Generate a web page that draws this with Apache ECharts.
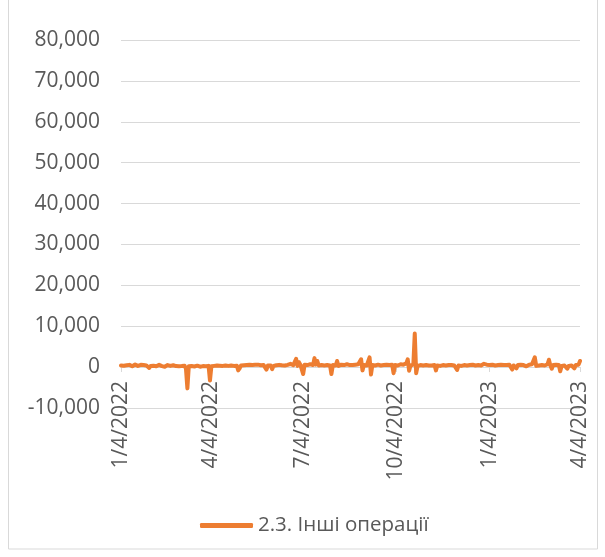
<!DOCTYPE html>
<html>
<head>
<meta charset="utf-8">
<script src="https://cdn.jsdelivr.net/npm/echarts@6/dist/echarts.min.js"></script>
<style>
  html, body { margin: 0; padding: 0; background: #fff; }
  #chart { width: 605px; height: 557px; }
</style>
</head>
<body>
<div id="chart"></div>
<script>
// Daily values (business days), grouped by month
const seriesName = '2.3. Інші операції';
const jan22 = [400, 500, 350, 600, 450, 300, 550, 400, 200, 500, 650, 400, 300, 450, 550, 350, 500, 250, 400, 600];
const feb22 = [-200, 300, 450, 350, 500, 200, 400, 550, 300, 250, 450, 100, 350, 500, 400, 300, 200, 450, 350, 250];
const mar22 = [300, 200, 400, 250, 100, 350, -400, -5200, 200, 300, 250, 400, 150, 300, 350, 200, 100, 300, 250, 350, 200, 400, 300];
const apr22 = [-3300, 200, 350, 300, 250, 400, 300, 350, 450, 300, 250, 400, 350, 300, 450, 400, 350, 300, 400, 350, -800];
const may22 = [-300, 400, 500, 450, 600, 500, 400, 550, 600, 500, 450, 550, 400, 600, 500, 450, 550, 500, 350, -600, 400, 500];
const jun22 = [400, -500, 300, 500, 450, 400, 550, 500, 450, 600, 400, 500, 550, 450, 800, 600, 500, 900, 2000, 300, 1200, 600];
const jul22 = [800, -1700, 600, 900, 500, 400, 700, 600, 500, 2200, 600, 1500, 400, 600, 500, 700, 400, 600, 500, 300, 400];
const aug22 = [-1700, 500, 600, 400, 1500, 300, 500, 600, 400, 500, 600, 700, 400, 500, 600, 500, 400, 600, 500, 700, 400, 1900, -800];
const sep22 = [500, 600, 400, 700, 2400, -1800, 500, 600, 400, 500, 600, 500, 400, 600, 500, 700, 600, 400, 500, 300, 600, -1500];
const oct22 = [500, 600, 400, 500, 700, 500, 600, 400, 900, 1900, -900, 400, 500, 600, 8200, -1500, 300, 400, 500, 300, 400];
const nov22 = [400, 500, 300, 400, 500, 400, 300, 500, -800, 400, 500, 300, 400, 500, 600, 400, 300, 500, 400, 500, 300, 400];
const dec22 = [500, -700, 400, 500, 300, 400, 500, 600, 400, 300, 500, 400, 600, 500, 400, 300, 500, 700, 400, 600, 800, 500];
const jan23 = [600, 400, 500, 300, 600, 500, 400, 700, 500, 300, 600, 400, 500, 200, 500, 400, 600, 300, -600, 400, 500, -300];
const feb23 = [500, 400, 600, 300, 500, 400, 200, 500, 600, 400, 700, 900, 2400, 300, 500, 400, 600, 500, 300, 400];
const mar23 = [500, 700, 1800, 400, -400, 500, 300, 600, 400, 500, -1000, 300, 600, 400, 500, -400, 300, 500, 400, 600, -300, 500, 400];
const apr23 = [600, 1500];

// [year, month (1-12), first day, values]
const months = [
  [2022, 1, 4, jan22], [2022, 2, 1, feb22], [2022, 3, 1, mar22], [2022, 4, 1, apr22],
  [2022, 5, 1, may22], [2022, 6, 1, jun22], [2022, 7, 1, jul22], [2022, 8, 1, aug22],
  [2022, 9, 1, sep22], [2022, 10, 1, oct22], [2022, 11, 1, nov22], [2022, 12, 1, dec22],
  [2023, 1, 1, jan23], [2023, 2, 1, feb23], [2023, 3, 1, mar23], [2023, 4, 1, apr23]
];

// y axis range
const yMin = -10000, yMax = 80000, yStep = 10000;

// Quarter-start dates that carry a label
const labelDates = ['1/4/2022', '4/4/2022', '7/4/2022', '10/4/2022', '1/4/2023', '4/4/2023'];

const dates = [];
const values = [];
months.forEach(([y, m, d0, vals]) => {
  let day = d0, i = 0;
  while (i < vals.length) {
    const dt = new Date(y, m - 1, day);
    if (dt.getMonth() !== m - 1) break;
    const wd = dt.getDay();
    if (wd !== 0 && wd !== 6) {
      dates.push(m + '/' + day + '/' + y);
      values.push(vals[i]);
      i++;
    }
    day++;
  }
});

const isLabel = (idx, val) => labelDates.indexOf(val) !== -1;
const txt = '#595959';
const gridCol = '#D9D9D9';
const font = '"Open Sans", sans-serif';

const gridTop = 40, gridHeight = 368;
// the category axis crosses the value axis at 0
const zeroOffset = -Math.round(gridHeight * (0 - yMin) / (yMax - yMin));

const chart = echarts.init(document.getElementById('chart'), null, { renderer: 'canvas' });
chart.setOption({
  animation: false,
  backgroundColor: '#fff',
  graphic: [{
    type: 'rect',
    shape: { x: 8.5, y: -1, width: 589, height: 550 },
    style: { fill: 'none', stroke: gridCol, lineWidth: 1 },
    silent: true
  }],
  grid: { left: 121, right: 25, top: gridTop, height: gridHeight, containLabel: false },
  legend: {
    left: 195,
    top: 510,
    icon: 'roundRect',
    itemWidth: 53,
    itemHeight: 5,
    itemGap: 10,
    textStyle: { color: txt, fontSize: 20.5, fontFamily: font },
    data: [seriesName]
  },
  xAxis: {
    type: 'category',
    data: dates,
    boundaryGap: false,
    offset: zeroOffset,
    axisLine: { show: true, onZero: false, lineStyle: { color: gridCol, width: 1 } },
    axisTick: { show: true, interval: isLabel, length: 5, lineStyle: { color: gridCol } },
    axisLabel: {
      interval: isLabel,
      rotate: 90,
      margin: 14,
      color: txt,
      fontSize: 21,
      fontFamily: font
    },
    splitLine: { show: false }
  },
  yAxis: {
    type: 'value',
    min: yMin,
    max: yMax,
    interval: yStep,
    axisLine: { show: false },
    axisTick: { show: false },
    axisLabel: {
      margin: 21,
      color: txt,
      fontSize: 21,
      fontFamily: font,
      formatter: v => v.toLocaleString('en-US')
    },
    splitLine: { lineStyle: { color: gridCol, width: 1 } }
  },
  series: [{
    name: seriesName,
    type: 'line',
    data: values,
    showSymbol: false,
    symbol: 'none',
    lineStyle: { color: '#ED7D31', width: 4, cap: 'round', join: 'round' },
    itemStyle: { color: '#ED7D31' }
  }]
});
</script>
</body>
</html>
